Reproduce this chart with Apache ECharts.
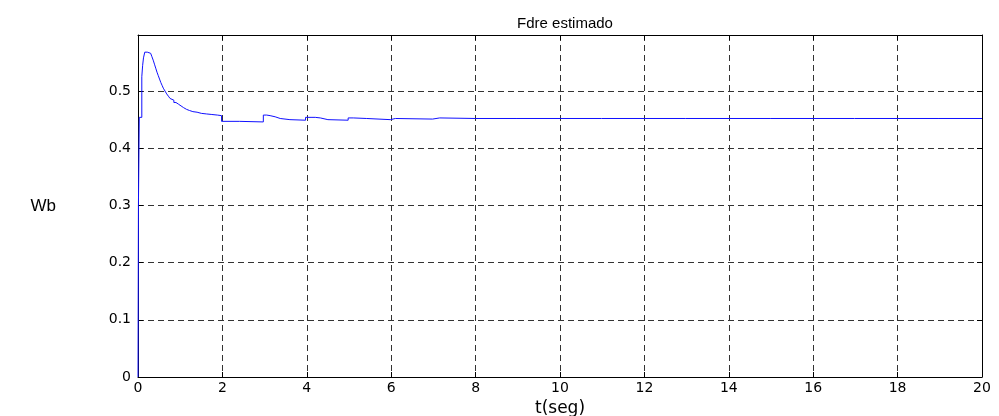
<!DOCTYPE html>
<html>
<head>
<meta charset="utf-8">
<script src="https://cdn.jsdelivr.net/npm/echarts@6/dist/echarts.min.js"></script>
<style>
html,body{margin:0;padding:0;background:#fff;}
#chart{width:999px;height:416px;}
</style>
</head>
<body>
<div id="chart"></div>
<script>
var titleText = 'Fdre estimado';
var xName = 't(seg)';
var yName = 'Wb';
var xTicks = [0, 2, 4, 6, 8, 10, 12, 14, 16, 18, 20];
var yTicks = [0, 0.1, 0.2, 0.3, 0.4, 0.5];

var timeValues = [0, 0.01, 0.03, 0.09, 0.11, 0.13, 0.16, 0.22, 0.26, 0.30, 0.33, 0.36, 0.39, 0.42,
  0.45, 0.48, 0.51, 0.54, 0.57, 0.60, 0.64, 0.68, 0.72, 0.76, 0.80, 0.85, 0.90, 0.96, 1.02,
  1.08, 1.15, 1.22, 1.30, 1.40, 1.50, 1.62, 1.75, 1.88, 1.98,
  2.40, 2.97, 3.05, 3.13, 3.25, 3.37, 3.60, 3.97, 4.10, 4.20, 4.32, 4.50, 4.98, 5.10, 5.42,
  5.98, 6.10, 6.98, 7.02, 7.15, 8.00, 8.98, 9.02, 10.98, 11.02, 12.98, 13.02, 14.98, 15.02,
  16.98, 17.02, 18.98, 19.02, 20.00];
var fluxValues = [0, 0.300, 0.454, 0.525, 0.545, 0.558, 0.568, 0.567, 0.566, 0.565, 0.560, 0.554, 0.547, 0.540,
  0.533, 0.527, 0.521, 0.515, 0.510, 0.505, 0.500, 0.495, 0.491, 0.487, 0.484, 0.480, 0.477, 0.474, 0.471,
  0.468, 0.466, 0.464, 0.463, 0.461, 0.460, 0.459, 0.458, 0.457, 0.447,
  0.446, 0.458, 0.457, 0.455, 0.452, 0.450, 0.449, 0.454, 0.454, 0.453, 0.450, 0.449, 0.453, 0.452, 0.450,
  0.452, 0.451, 0.450, 0.453, 0.452, 0.452, 0.454, 0.452, 0.454, 0.452, 0.454, 0.452, 0.454, 0.452,
  0.454, 0.452, 0.454, 0.452, 0.452];

var seriesData = timeValues.map(function (t, i) { return [t, fluxValues[i]]; });

var FONT = 'DejaVu Sans';
var chart = echarts.init(document.getElementById('chart'), null, {renderer: 'canvas'});
var xMin = xTicks[0], xMax = xTicks[xTicks.length - 1];
var yMin = yTicks[0], yMax = 0.598;
function yFmt(v) {
  for (var i = 0; i < yTicks.length; i++) {
    if (Math.abs(v - yTicks[i]) < 1e-6) return String(yTicks[i]);
  }
  return '';
}
var dashed = {show: true, lineStyle: {color: '#333', width: 1, type: [6, 4]}};
var frameLine = {show: true, onZero: false, lineStyle: {color: '#000', width: 1}};
chart.setOption({
  animation: false,
  backgroundColor: '#fff',
  title: {
    text: titleText, left: 560, top: 11, textAlign: 'center',
    textStyle: {fontFamily: 'Liberation Sans', fontSize: 15, fontWeight: 'normal', color: '#000'}
  },
  grid: {left: 138, right: 17, top: 35, bottom: 39, containLabel: false, outerBoundsMode: 'none'},
  xAxis: [{
    type: 'value', min: xMin, max: xMax, interval: 2, position: 'bottom',
    name: xName, nameLocation: 'middle', nameGap: 20,
    nameTextStyle: {fontFamily: FONT, fontSize: 17, color: '#000'},
    axisLine: frameLine,
    axisTick: {show: true, inside: true, length: 5, lineStyle: {color: '#000'}},
    axisLabel: {fontFamily: FONT, fontSize: 14, color: '#000', margin: 4},
    splitLine: dashed
  }, {
    type: 'value', min: xMin, max: xMax, interval: 2, position: 'top',
    axisLine: frameLine,
    axisTick: {show: true, inside: true, length: 5, lineStyle: {color: '#000'}},
    axisLabel: {show: false}, splitLine: {show: false}
  }],
  yAxis: [{
    type: 'value', min: yMin, max: yMax, interval: 0.1, position: 'left',
    name: yName, nameLocation: 'middle', nameGap: 82, nameRotate: 0,
    nameTextStyle: {fontFamily: 'Liberation Sans', fontSize: 17, color: '#000'},
    axisLine: frameLine,
    axisTick: {show: true, inside: true, length: 5, lineStyle: {color: '#000'}},
    axisLabel: {fontFamily: FONT, fontSize: 14, color: '#000', margin: 7, formatter: yFmt},
    splitLine: dashed
  }, {
    type: 'value', min: yMin, max: yMax, interval: 0.1, position: 'right',
    axisLine: frameLine,
    axisTick: {show: true, inside: true, length: 5, lineStyle: {color: '#000'}},
    axisLabel: {show: false}, splitLine: {show: false}
  }],
  series: [{
    type: 'line', xAxisIndex: 0, yAxisIndex: 0,
    data: seriesData, step: 'end', showSymbol: false, symbol: 'none',
    lineStyle: {color: '#1010ff', width: 1}, z: 5
  }]
});
</script>
</body>
</html>
